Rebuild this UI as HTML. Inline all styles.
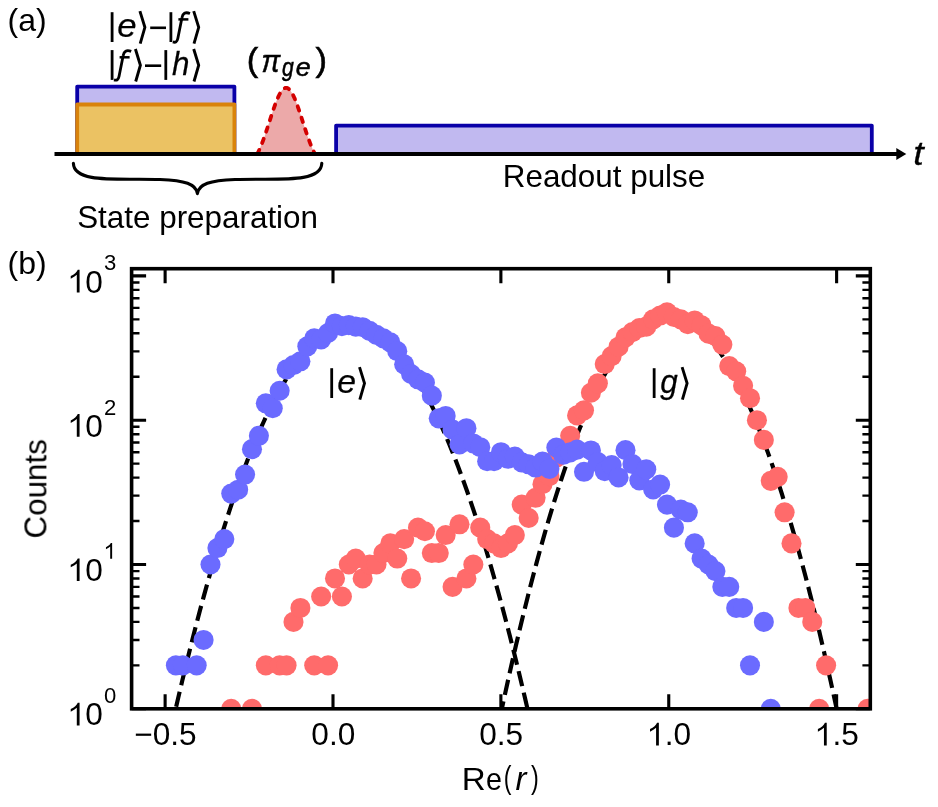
<!DOCTYPE html>
<html><head><meta charset="utf-8"><title>fig</title>
<style>
html,body{margin:0;padding:0;background:#fff}
body{width:938px;height:807px;overflow:hidden}
svg{display:block}
text{filter:url(#noaa)}
text{font-family:"Liberation Sans",sans-serif;fill:#000}
.i{font-style:italic}
</style></head><body>
<svg width="938" height="807" viewBox="0 0 938 807">
<defs><filter id="noaa" x="-20%" y="-40%" width="140%" height="180%" color-interpolation-filters="sRGB"><feOffset dx="0" dy="0"/></filter></defs>
<rect width="938" height="807" fill="#fff"/>
<g id="panelA">
<path d="M77.20 154.0 V86.60 H234.40 V154.0" fill="#c1b9f0" stroke="#0a00a8" stroke-width="3.8" stroke-linejoin="round"/>
<path d="M77.20 154.0 V104.50 H234.40 V154.0" fill="#ebc263" stroke="#d9830b" stroke-width="3.8" stroke-linejoin="round"/>
<path d="M336.10 154.0 V125.60 H871.80 V154.0" fill="#c1b9f0" stroke="#0a00a8" stroke-width="3.8" stroke-linejoin="round"/>
<path d="M257.3 154.00 L257.7 153.21 L258.1 152.40 L258.5 151.56 L258.9 150.70 L259.3 149.82 L259.7 148.92 L260.1 148.00 L260.5 147.05 L260.9 146.09 L261.3 145.10 L261.7 144.10 L262.1 143.07 L262.5 142.02 L262.9 140.96 L263.3 139.88 L263.7 138.78 L264.1 137.66 L264.5 136.53 L264.9 135.39 L265.3 134.22 L265.7 133.05 L266.1 131.86 L266.5 130.67 L266.9 129.46 L267.3 128.24 L267.7 127.02 L268.1 125.79 L268.5 124.55 L268.9 123.31 L269.3 122.07 L269.7 120.82 L270.1 119.58 L270.5 118.34 L270.9 117.10 L271.3 115.87 L271.7 114.64 L272.1 113.42 L272.5 112.21 L272.9 111.01 L273.3 109.83 L273.7 108.66 L274.1 107.51 L274.5 106.37 L274.9 105.26 L275.3 104.16 L275.7 103.09 L276.1 102.04 L276.5 101.02 L276.9 100.03 L277.3 99.06 L277.7 98.13 L278.1 97.23 L278.5 96.36 L278.9 95.53 L279.3 94.74 L279.7 93.98 L280.1 93.26 L280.5 92.58 L280.9 91.95 L281.3 91.35 L281.7 90.80 L282.1 90.30 L282.5 89.84 L282.9 89.43 L283.3 89.06 L283.7 88.74 L284.1 88.47 L284.5 88.25 L284.9 88.07 L285.3 87.95 L285.7 87.87 L286.1 87.85 L286.5 87.87 L286.9 87.95 L287.3 88.07 L287.7 88.25 L288.1 88.47 L288.5 88.74 L288.9 89.06 L289.3 89.43 L289.7 89.84 L290.1 90.30 L290.5 90.80 L290.9 91.35 L291.3 91.95 L291.7 92.58 L292.1 93.26 L292.5 93.98 L292.9 94.74 L293.3 95.53 L293.7 96.36 L294.1 97.23 L294.5 98.13 L294.9 99.06 L295.3 100.03 L295.7 101.02 L296.1 102.04 L296.5 103.09 L296.9 104.16 L297.3 105.26 L297.7 106.37 L298.1 107.51 L298.5 108.66 L298.9 109.83 L299.3 111.01 L299.7 112.21 L300.1 113.42 L300.5 114.64 L300.9 115.87 L301.3 117.10 L301.7 118.34 L302.1 119.58 L302.5 120.82 L302.9 122.07 L303.3 123.31 L303.7 124.55 L304.1 125.79 L304.5 127.02 L304.9 128.24 L305.3 129.46 L305.7 130.67 L306.1 131.86 L306.5 133.05 L306.9 134.22 L307.3 135.39 L307.7 136.53 L308.1 137.66 L308.5 138.78 L308.9 139.88 L309.3 140.96 L309.7 142.02 L310.1 143.07 L310.5 144.10 L310.9 145.10 L311.3 146.09 L311.7 147.05 L312.1 148.00 L312.5 148.92 L312.9 149.82 L313.3 150.70 L313.7 151.56 L314.1 152.40 L314.5 153.21 L314.9 154.00 Z" fill="#eca9a9" stroke="none"/>
<path d="M257.3 154.00 L257.7 153.21 L258.1 152.40 L258.5 151.56 L258.9 150.70 L259.3 149.82 L259.7 148.92 L260.1 148.00 L260.5 147.05 L260.9 146.09 L261.3 145.10 L261.7 144.10 L262.1 143.07 L262.5 142.02 L262.9 140.96 L263.3 139.88 L263.7 138.78 L264.1 137.66 L264.5 136.53 L264.9 135.39 L265.3 134.22 L265.7 133.05 L266.1 131.86 L266.5 130.67 L266.9 129.46 L267.3 128.24 L267.7 127.02 L268.1 125.79 L268.5 124.55 L268.9 123.31 L269.3 122.07 L269.7 120.82 L270.1 119.58 L270.5 118.34 L270.9 117.10 L271.3 115.87 L271.7 114.64 L272.1 113.42 L272.5 112.21 L272.9 111.01 L273.3 109.83 L273.7 108.66 L274.1 107.51 L274.5 106.37 L274.9 105.26 L275.3 104.16 L275.7 103.09 L276.1 102.04 L276.5 101.02 L276.9 100.03 L277.3 99.06 L277.7 98.13 L278.1 97.23 L278.5 96.36 L278.9 95.53 L279.3 94.74 L279.7 93.98 L280.1 93.26 L280.5 92.58 L280.9 91.95 L281.3 91.35 L281.7 90.80 L282.1 90.30 L282.5 89.84 L282.9 89.43 L283.3 89.06 L283.7 88.74 L284.1 88.47 L284.5 88.25 L284.9 88.07 L285.3 87.95 L285.7 87.87 L286.1 87.85 L286.5 87.87 L286.9 87.95 L287.3 88.07 L287.7 88.25 L288.1 88.47 L288.5 88.74 L288.9 89.06 L289.3 89.43 L289.7 89.84 L290.1 90.30 L290.5 90.80 L290.9 91.35 L291.3 91.95 L291.7 92.58 L292.1 93.26 L292.5 93.98 L292.9 94.74 L293.3 95.53 L293.7 96.36 L294.1 97.23 L294.5 98.13 L294.9 99.06 L295.3 100.03 L295.7 101.02 L296.1 102.04 L296.5 103.09 L296.9 104.16 L297.3 105.26 L297.7 106.37 L298.1 107.51 L298.5 108.66 L298.9 109.83 L299.3 111.01 L299.7 112.21 L300.1 113.42 L300.5 114.64 L300.9 115.87 L301.3 117.10 L301.7 118.34 L302.1 119.58 L302.5 120.82 L302.9 122.07 L303.3 123.31 L303.7 124.55 L304.1 125.79 L304.5 127.02 L304.9 128.24 L305.3 129.46 L305.7 130.67 L306.1 131.86 L306.5 133.05 L306.9 134.22 L307.3 135.39 L307.7 136.53 L308.1 137.66 L308.5 138.78 L308.9 139.88 L309.3 140.96 L309.7 142.02 L310.1 143.07 L310.5 144.10 L310.9 145.10 L311.3 146.09 L311.7 147.05 L312.1 148.00 L312.5 148.92 L312.9 149.82 L313.3 150.70 L313.7 151.56 L314.1 152.40 L314.5 153.21 L314.9 154.00" fill="none" stroke="#d40000" stroke-width="3.8" stroke-linecap="round" stroke-dasharray="4.6 7.4"/>
<line x1="54.5" y1="154.0" x2="897" y2="154.0" stroke="#000" stroke-width="3.9"/>
<path d="M896.3 148.1 L906.3 154.0 L896.3 159.9 Z" fill="#000"/>
<path d="M73.4 163.4 C74 184 120 178 160 179.5 C185 180.5 196 184 197.4 193.6 C198.8 184 210 180.5 235 179.5 C275 178 321 184 321.8 163.4" fill="none" stroke="#000" stroke-width="3.1" stroke-linecap="round" stroke-linejoin="round"/>
<text x="7.6" y="31" font-size="32">(a)</text>
<text x="197.6" y="228.0" font-size="31.4" text-anchor="middle">State preparation</text>
<text x="604.0" y="187.4" font-size="31.4" text-anchor="middle">Readout pulse</text>
<text transform="translate(913.32 164.90) scale(1.1085 1)" font-size="34" class="i" stroke="#000" stroke-width="0.3">t</text>
<line x1="112.10" y1="12.20" x2="112.10" y2="42.00" stroke="#000" stroke-width="2.8"/>
<text transform="translate(117.31 37.00) scale(1.0388 1)" font-size="33.5" class="i" stroke="#000" stroke-width="0.25">e</text>
<path d="M139.90 11.10 L144.90 27.30 L140.20 43.60" fill="none" stroke="#000" stroke-width="2.9" stroke-linejoin="miter" stroke-miterlimit="10"/>
<line x1="150.20" y1="27.80" x2="166.00" y2="27.80" stroke="#000" stroke-width="2.6"/>
<line x1="170.90" y1="12.20" x2="170.90" y2="42.00" stroke="#000" stroke-width="2.8"/>
<path d="M190.00 13.50 C185.20 11.60 182.70 13.50 182.00 17.50 L177.80 38.50 C177.10 42.00 175.60 42.80 172.80 41.90" fill="none" stroke="#000" stroke-width="2.8" stroke-linecap="butt"/>
<path d="M178.40 19.40 H188.40" fill="none" stroke="#000" stroke-width="2.5"/>
<path d="M193.70 11.10 L198.70 27.30 L194.00 43.60" fill="none" stroke="#000" stroke-width="2.9" stroke-linejoin="miter" stroke-miterlimit="10"/>
<line x1="112.10" y1="50.10" x2="112.10" y2="79.90" stroke="#000" stroke-width="2.8"/>
<path d="M131.20 51.40 C126.40 49.50 123.90 51.40 123.20 55.40 L119.00 76.40 C118.30 79.90 116.80 80.70 114.00 79.80" fill="none" stroke="#000" stroke-width="2.8" stroke-linecap="butt"/>
<path d="M119.60 57.30 H129.60" fill="none" stroke="#000" stroke-width="2.5"/>
<path d="M135.40 49.00 L140.40 65.20 L135.70 81.50" fill="none" stroke="#000" stroke-width="2.9" stroke-linejoin="miter" stroke-miterlimit="10"/>
<line x1="145.00" y1="65.70" x2="161.20" y2="65.70" stroke="#000" stroke-width="2.6"/>
<line x1="165.80" y1="50.10" x2="165.80" y2="79.90" stroke="#000" stroke-width="2.8"/>
<text transform="translate(172.01 74.90) scale(0.9373 1)" font-size="33.5" class="i" stroke="#000" stroke-width="0.25">h</text>
<path d="M193.70 49.00 L198.70 65.20 L194.00 81.50" fill="none" stroke="#000" stroke-width="2.9" stroke-linejoin="miter" stroke-miterlimit="10"/>
<text transform="translate(246.68 70.80) scale(1.0388 1)" font-size="33.2" stroke="#000" stroke-width="0.55">(</text>
<text transform="translate(261.42 72.00) scale(0.8681 1)" font-size="32.3" class="i" stroke="#000" stroke-width="0.55">π</text>
<text transform="translate(281.90 76.00) scale(0.8329 1)" font-size="25.4" class="i" stroke="#000" stroke-width="0.55">g</text>
<text transform="translate(295.86 76.00) scale(1.0551 1)" font-size="25.4" class="i" stroke="#000" stroke-width="0.55">e</text>
<text transform="translate(315.40 70.80) scale(1.0388 1)" font-size="33.2" stroke="#000" stroke-width="0.55">)</text>
</g>
<g id="panelB">
<clipPath id="cp"><rect x="131.6" y="268.7" width="738.6999999999999" height="440.09999999999997"/></clipPath>
<g clip-path="url(#cp)">
<path d="M170.00 733.89 L173.03 720.42 L176.05 707.17 L179.08 694.15 L182.11 681.36 L185.13 668.79 L188.16 656.45 L191.18 644.33 L194.21 632.44 L197.24 620.78 L200.26 609.34 L203.29 598.13 L206.32 587.15 L209.34 576.39 L212.37 565.86 L215.39 555.56 L218.42 545.48 L221.45 535.63 L224.47 526.01 L227.50 516.61 L230.53 507.44 L233.55 498.49 L236.58 489.77 L239.61 481.28 L242.63 473.01 L245.66 464.98 L248.68 457.16 L251.71 449.58 L254.74 442.22 L257.76 435.08 L260.79 428.18 L263.82 421.50 L266.84 415.04 L269.87 408.81 L272.90 402.81 L275.92 397.04 L278.95 391.49 L281.97 386.17 L285.00 381.07 L288.03 376.20 L291.05 371.56 L294.08 367.15 L297.11 362.96 L300.13 358.99 L303.16 355.26 L306.19 351.75 L309.21 348.46 L312.24 345.41 L315.26 342.57 L318.29 339.97 L321.32 337.59 L324.34 335.44 L327.37 333.52 L330.40 331.82 L333.42 330.35 L336.45 329.10 L339.47 328.08 L342.50 327.29 L345.53 326.72 L348.55 326.38 L351.58 326.27" stroke="#000" stroke-width="4.17" stroke-dasharray="15.43 6.67" fill="none" stroke-dashoffset="16.3"/>
<path d="M351.58 326.27 L354.62 326.38 L357.66 326.73 L360.70 327.30 L363.74 328.10 L366.78 329.13 L369.82 330.38 L372.86 331.87 L375.90 333.58 L378.94 335.53 L381.98 337.70 L385.02 340.10 L388.06 342.73 L391.10 345.58 L394.14 348.67 L397.19 351.98 L400.23 355.53 L403.27 359.30 L406.31 363.30 L409.35 367.52 L412.39 371.98 L415.43 376.67 L418.47 381.58 L421.51 386.72 L424.55 392.09 L427.59 397.69 L430.63 403.52 L433.67 409.58 L436.71 415.86 L439.75 422.38 L442.79 429.12 L445.83 436.09 L448.87 443.29 L451.91 450.72 L454.95 458.38 L457.99 466.26 L461.03 474.38 L464.07 482.72 L467.11 491.29 L470.15 500.09 L473.19 509.12 L476.23 518.37 L479.27 527.86 L482.31 537.57 L485.35 547.51 L488.39 557.68 L491.44 568.08 L494.48 578.71 L497.52 589.57 L500.56 600.65 L503.60 611.97 L506.64 623.51 L509.68 635.28 L512.72 647.28 L515.76 659.51 L518.80 671.96 L521.84 684.65 L524.88 697.56 L527.92 710.70 L530.96 724.08 L534.00 737.67" stroke="#000" stroke-width="4.17" stroke-dasharray="15.43 6.67" fill="none" stroke-dashoffset="0"/>
<path d="M496.00 736.65 L498.89 722.75 L501.77 709.09 L504.66 695.66 L507.55 682.47 L510.44 669.51 L513.32 656.78 L516.21 644.28 L519.10 632.02 L521.99 619.99 L524.87 608.20 L527.76 596.64 L530.65 585.31 L533.54 574.22 L536.42 563.36 L539.31 552.73 L542.20 542.34 L545.08 532.18 L547.97 522.26 L550.86 512.56 L553.75 503.11 L556.63 493.88 L559.52 484.89 L562.41 476.13 L565.30 467.61 L568.18 459.32 L571.07 451.26 L573.96 443.43 L576.85 435.84 L579.73 428.49 L582.62 421.36 L585.51 414.48 L588.39 407.82 L591.28 401.40 L594.17 395.21 L597.06 389.25 L599.94 383.53 L602.83 378.04 L605.72 372.79 L608.61 367.77 L611.49 362.98 L614.38 358.42 L617.27 354.10 L620.16 350.02 L623.04 346.16 L625.93 342.54 L628.82 339.16 L631.70 336.00 L634.59 333.09 L637.48 330.40 L640.37 327.95 L643.25 325.73 L646.14 323.74 L649.03 321.99 L651.92 320.47 L654.80 319.19 L657.69 318.14 L660.58 317.32 L663.47 316.74 L666.35 316.39 L669.24 316.27" stroke="#000" stroke-width="4.17" stroke-dasharray="15.43 6.67" fill="none" stroke-dashoffset="1.5"/>
<path d="M669.24 316.27 L671.25 316.33 L673.26 316.50 L675.27 316.78 L677.28 317.18 L679.29 317.68 L681.30 318.31 L683.31 319.04 L685.32 319.89 L687.33 320.85 L689.34 321.93 L691.35 323.12 L693.36 324.42 L695.37 325.83 L697.38 327.36 L699.39 329.00 L701.40 330.76 L703.41 332.62 L705.42 334.61 L707.43 336.70 L709.44 338.91 L711.45 341.23 L713.46 343.66 L715.47 346.21 L717.48 348.87 L719.49 351.64 L721.50 354.52 L723.51 357.52 L725.52 360.64 L727.53 363.86 L729.54 367.20 L731.55 370.65 L733.56 374.22 L735.57 377.90 L737.58 381.69 L739.59 385.59 L741.60 389.61 L743.61 393.74 L745.62 397.99 L747.63 402.34 L749.64 406.81 L751.65 411.40 L753.66 416.09 L755.67 420.90 L757.68 425.83 L759.69 430.86 L761.70 436.01 L763.71 441.28 L765.72 446.65 L767.73 452.14 L769.74 457.74 L771.75 463.46 L773.76 469.29 L775.77 475.23 L777.78 481.29 L779.79 487.45 L781.80 493.74 L783.81 500.13 L785.82 506.64 L787.83 513.26 L789.84 519.99" stroke="#000" stroke-width="4.17" stroke-dasharray="15.43 6.67" fill="none" stroke-dashoffset="11.70"/>
<path d="M789.84 519.99 L790.71 522.94 L791.58 525.91 L792.45 528.90 L793.32 531.91 L794.19 534.94 L795.06 538.00 L795.93 541.07 L796.79 544.17 L797.66 547.28 L798.53 550.42 L799.40 553.58 L800.27 556.76 L801.14 559.96 L802.01 563.19 L802.88 566.43 L803.75 569.70 L804.62 572.98 L805.49 576.29 L806.36 579.62 L807.23 582.97 L808.10 586.34 L808.97 589.73 L809.83 593.14 L810.70 596.58 L811.57 600.03 L812.44 603.51 L813.31 607.01 L814.18 610.53 L815.05 614.07 L815.92 617.63 L816.79 621.21 L817.66 624.82 L818.53 628.44 L819.40 632.09 L820.27 635.76 L821.14 639.45 L822.01 643.15 L822.87 646.89 L823.74 650.64 L824.61 654.41 L825.48 658.21 L826.35 662.02 L827.22 665.86 L828.09 669.72 L828.96 673.60 L829.83 677.50 L830.70 681.42 L831.57 685.36 L832.44 689.32 L833.31 693.31 L834.18 697.31 L835.05 701.34 L835.91 705.39 L836.78 709.46 L837.65 713.55 L838.52 717.66 L839.39 721.80 L840.26 725.95 L841.13 730.13 L842.00 734.32" stroke="#000" stroke-width="4.17" stroke-dasharray="15.43 6.67" fill="none" stroke-dashoffset="19.04"/>
<g fill="#ff6b6b">
<circle cx="231.24" cy="708.80" r="10.05"/><circle cx="251.99" cy="708.80" r="10.05"/><circle cx="265.82" cy="665.36" r="10.05"/><circle cx="279.65" cy="665.36" r="10.05"/><circle cx="286.57" cy="665.36" r="10.05"/><circle cx="293.49" cy="621.92" r="10.05"/><circle cx="300.41" cy="607.94" r="10.05"/><circle cx="314.24" cy="665.36" r="10.05"/><circle cx="321.16" cy="596.51" r="10.05"/><circle cx="328.07" cy="665.36" r="10.05"/><circle cx="334.99" cy="578.48" r="10.05"/><circle cx="341.91" cy="596.51" r="10.05"/><circle cx="348.82" cy="564.50" r="10.05"/><circle cx="355.74" cy="558.53" r="10.05"/><circle cx="362.66" cy="578.48" r="10.05"/><circle cx="369.58" cy="564.50" r="10.05"/><circle cx="376.49" cy="564.50" r="10.05"/><circle cx="383.41" cy="553.07" r="10.05"/><circle cx="390.33" cy="543.41" r="10.05"/><circle cx="397.24" cy="558.53" r="10.05"/><circle cx="404.16" cy="539.09" r="10.05"/><circle cx="411.08" cy="578.48" r="10.05"/><circle cx="418.00" cy="527.66" r="10.05"/><circle cx="424.91" cy="531.25" r="10.05"/><circle cx="431.83" cy="553.07" r="10.05"/><circle cx="438.75" cy="553.07" r="10.05"/><circle cx="445.66" cy="535.05" r="10.05"/><circle cx="452.58" cy="586.85" r="10.05"/><circle cx="459.50" cy="524.28" r="10.05"/><circle cx="466.41" cy="578.48" r="10.05"/><circle cx="473.33" cy="564.50" r="10.05"/><circle cx="480.25" cy="527.66" r="10.05"/><circle cx="487.16" cy="539.09" r="10.05"/><circle cx="494.08" cy="543.41" r="10.05"/><circle cx="501.00" cy="548.06" r="10.05"/><circle cx="507.92" cy="543.41" r="10.05"/><circle cx="514.83" cy="535.05" r="10.05"/><circle cx="521.75" cy="504.62" r="10.05"/><circle cx="528.67" cy="518.00" r="10.05"/><circle cx="535.58" cy="497.78" r="10.05"/><circle cx="542.50" cy="484.23" r="10.05"/><circle cx="549.42" cy="476.08" r="10.05"/><circle cx="556.34" cy="457.67" r="10.05"/><circle cx="563.25" cy="452.21" r="10.05"/><circle cx="570.17" cy="435.77" r="10.05"/><circle cx="577.09" cy="415.38" r="10.05"/><circle cx="584.00" cy="410.36" r="10.05"/><circle cx="590.92" cy="392.74" r="10.05"/><circle cx="597.84" cy="383.36" r="10.05"/><circle cx="604.75" cy="364.04" r="10.05"/><circle cx="611.67" cy="356.12" r="10.05"/><circle cx="618.59" cy="346.72" r="10.05"/><circle cx="625.50" cy="337.37" r="10.05"/><circle cx="632.42" cy="332.08" r="10.05"/><circle cx="639.34" cy="328.07" r="10.05"/><circle cx="646.26" cy="326.64" r="10.05"/><circle cx="653.17" cy="319.34" r="10.05"/><circle cx="660.09" cy="315.57" r="10.05"/><circle cx="667.01" cy="312.35" r="10.05"/><circle cx="673.92" cy="317.00" r="10.05"/><circle cx="680.84" cy="319.34" r="10.05"/><circle cx="687.76" cy="324.16" r="10.05"/><circle cx="694.67" cy="320.48" r="10.05"/><circle cx="701.59" cy="325.39" r="10.05"/><circle cx="708.51" cy="333.64" r="10.05"/><circle cx="715.43" cy="336.04" r="10.05"/><circle cx="722.34" cy="344.62" r="10.05"/><circle cx="729.26" cy="366.12" r="10.05"/><circle cx="736.18" cy="371.36" r="10.05"/><circle cx="743.09" cy="385.85" r="10.05"/><circle cx="750.01" cy="398.22" r="10.05"/><circle cx="756.93" cy="420.20" r="10.05"/><circle cx="763.84" cy="439.92" r="10.05"/><circle cx="770.76" cy="480.84" r="10.05"/><circle cx="777.68" cy="476.84" r="10.05"/><circle cx="784.60" cy="512.30" r="10.05"/><circle cx="791.51" cy="543.41" r="10.05"/><circle cx="798.43" cy="607.94" r="10.05"/><circle cx="805.35" cy="607.94" r="10.05"/><circle cx="812.26" cy="621.92" r="10.05"/><circle cx="819.18" cy="708.80" r="10.05"/><circle cx="826.10" cy="665.36" r="10.05"/><circle cx="867.60" cy="708.80" r="10.05"/>
</g>
<g fill="#6b6bff">
<circle cx="175.90" cy="665.36" r="10.05"/><circle cx="182.82" cy="665.36" r="10.05"/><circle cx="196.65" cy="665.36" r="10.05"/><circle cx="203.57" cy="639.95" r="10.05"/><circle cx="210.49" cy="564.50" r="10.05"/><circle cx="217.40" cy="548.06" r="10.05"/><circle cx="224.32" cy="539.09" r="10.05"/><circle cx="231.24" cy="493.60" r="10.05"/><circle cx="238.15" cy="489.68" r="10.05"/><circle cx="245.07" cy="474.57" r="10.05"/><circle cx="251.99" cy="449.16" r="10.05"/><circle cx="258.90" cy="435.77" r="10.05"/><circle cx="265.82" cy="403.28" r="10.05"/><circle cx="272.74" cy="408.25" r="10.05"/><circle cx="279.65" cy="390.75" r="10.05"/><circle cx="286.57" cy="369.38" r="10.05"/><circle cx="293.49" cy="365.07" r="10.05"/><circle cx="300.41" cy="361.29" r="10.05"/><circle cx="307.32" cy="346.34" r="10.05"/><circle cx="314.24" cy="338.38" r="10.05"/><circle cx="321.16" cy="339.41" r="10.05"/><circle cx="328.07" cy="333.01" r="10.05"/><circle cx="334.99" cy="323.48" r="10.05"/><circle cx="341.91" cy="326.08" r="10.05"/><circle cx="348.82" cy="325.11" r="10.05"/><circle cx="355.74" cy="326.64" r="10.05"/><circle cx="362.66" cy="327.21" r="10.05"/><circle cx="369.58" cy="330.86" r="10.05"/><circle cx="376.49" cy="334.91" r="10.05"/><circle cx="383.41" cy="338.38" r="10.05"/><circle cx="390.33" cy="342.41" r="10.05"/><circle cx="397.24" cy="351.14" r="10.05"/><circle cx="404.16" cy="364.30" r="10.05"/><circle cx="411.08" cy="374.00" r="10.05"/><circle cx="418.00" cy="379.32" r="10.05"/><circle cx="424.91" cy="382.67" r="10.05"/><circle cx="431.83" cy="395.63" r="10.05"/><circle cx="438.75" cy="418.35" r="10.05"/><circle cx="445.66" cy="415.96" r="10.05"/><circle cx="452.58" cy="429.65" r="10.05"/><circle cx="459.50" cy="444.37" r="10.05"/><circle cx="466.41" cy="428.21" r="10.05"/><circle cx="473.33" cy="443.45" r="10.05"/><circle cx="480.25" cy="447.20" r="10.05"/><circle cx="487.16" cy="461.18" r="10.05"/><circle cx="494.08" cy="461.18" r="10.05"/><circle cx="501.00" cy="452.21" r="10.05"/><circle cx="507.92" cy="458.82" r="10.05"/><circle cx="514.83" cy="456.54" r="10.05"/><circle cx="521.75" cy="462.40" r="10.05"/><circle cx="528.67" cy="464.27" r="10.05"/><circle cx="535.58" cy="467.52" r="10.05"/><circle cx="542.50" cy="461.66" r="10.05"/><circle cx="549.42" cy="468.86" r="10.05"/><circle cx="556.34" cy="447.49" r="10.05"/><circle cx="563.25" cy="454.77" r="10.05"/><circle cx="570.17" cy="452.42" r="10.05"/><circle cx="577.09" cy="449.65" r="10.05"/><circle cx="584.00" cy="471.79" r="10.05"/><circle cx="590.92" cy="450.46" r="10.05"/><circle cx="597.84" cy="462.15" r="10.05"/><circle cx="604.75" cy="471.22" r="10.05"/><circle cx="611.67" cy="465.03" r="10.05"/><circle cx="618.59" cy="477.47" r="10.05"/><circle cx="625.50" cy="450.16" r="10.05"/><circle cx="632.42" cy="464.02" r="10.05"/><circle cx="639.34" cy="480.34" r="10.05"/><circle cx="646.26" cy="469.27" r="10.05"/><circle cx="653.17" cy="489.49" r="10.05"/><circle cx="660.09" cy="484.57" r="10.05"/><circle cx="667.01" cy="504.62" r="10.05"/><circle cx="673.92" cy="527.66" r="10.05"/><circle cx="680.84" cy="509.64" r="10.05"/><circle cx="687.76" cy="512.30" r="10.05"/><circle cx="694.67" cy="543.41" r="10.05"/><circle cx="701.59" cy="558.53" r="10.05"/><circle cx="708.51" cy="564.50" r="10.05"/><circle cx="715.43" cy="571.10" r="10.05"/><circle cx="722.34" cy="586.85" r="10.05"/><circle cx="729.26" cy="586.85" r="10.05"/><circle cx="736.18" cy="607.94" r="10.05"/><circle cx="743.09" cy="607.94" r="10.05"/><circle cx="750.01" cy="665.36" r="10.05"/><circle cx="763.84" cy="621.92" r="10.05"/><circle cx="770.76" cy="708.80" r="10.05"/>
</g>
</g>
<path d="M165.12 708.8 v-14.5 M165.12 268.7 v14.5 M333.00 708.8 v-14.5 M333.00 268.7 v14.5 M500.88 708.8 v-14.5 M500.88 268.7 v14.5 M668.75 708.8 v-14.5 M668.75 268.7 v14.5 M836.62 708.8 v-14.5 M836.62 268.7 v14.5" stroke="#000" stroke-width="3.1" fill="none"/>
<path d="M131.6 708.80 h14.5 M870.3 708.80 h-14.5 M131.6 564.50 h14.5 M870.3 564.50 h-14.5 M131.6 420.20 h14.5 M870.3 420.20 h-14.5 M131.6 275.90 h14.5 M870.3 275.90 h-14.5" stroke="#000" stroke-width="3.1" fill="none"/>
<path d="M131.6 665.36 h7.9 M870.3 665.36 h-7.9 M131.6 639.95 h7.9 M870.3 639.95 h-7.9 M131.6 621.92 h7.9 M870.3 621.92 h-7.9 M131.6 607.94 h7.9 M870.3 607.94 h-7.9 M131.6 596.51 h7.9 M870.3 596.51 h-7.9 M131.6 586.85 h7.9 M870.3 586.85 h-7.9 M131.6 578.48 h7.9 M870.3 578.48 h-7.9 M131.6 571.10 h7.9 M870.3 571.10 h-7.9 M131.6 521.06 h7.9 M870.3 521.06 h-7.9 M131.6 495.65 h7.9 M870.3 495.65 h-7.9 M131.6 477.62 h7.9 M870.3 477.62 h-7.9 M131.6 463.64 h7.9 M870.3 463.64 h-7.9 M131.6 452.21 h7.9 M870.3 452.21 h-7.9 M131.6 442.55 h7.9 M870.3 442.55 h-7.9 M131.6 434.18 h7.9 M870.3 434.18 h-7.9 M131.6 426.80 h7.9 M870.3 426.80 h-7.9 M131.6 376.76 h7.9 M870.3 376.76 h-7.9 M131.6 351.35 h7.9 M870.3 351.35 h-7.9 M131.6 333.32 h7.9 M870.3 333.32 h-7.9 M131.6 319.34 h7.9 M870.3 319.34 h-7.9 M131.6 307.91 h7.9 M870.3 307.91 h-7.9 M131.6 298.25 h7.9 M870.3 298.25 h-7.9 M131.6 289.88 h7.9 M870.3 289.88 h-7.9 M131.6 282.50 h7.9 M870.3 282.50 h-7.9" stroke="#000" stroke-width="2.4" fill="none"/>
<rect x="131.6" y="268.7" width="738.70" height="440.10" fill="none" stroke="#000" stroke-width="3.6"/>
<text x="134.24" y="745.40" font-size="31.6">−0.5</text>
<text x="311.34" y="745.40" font-size="31.6">0.0</text>
<text x="479.21" y="745.40" font-size="31.6">0.5</text>
<path transform="translate(647.09 745.40) scale(0.01543 -0.01543)" d="M763 0 H583 V1147 Q480 1050 190 890 V1064 Q545 1228 647 1472 H763 Z" fill="#000"/><text x="664.66" y="745.40" font-size="31.6">.0</text>
<path transform="translate(814.96 745.40) scale(0.01543 -0.01543)" d="M763 0 H583 V1147 Q480 1050 190 890 V1064 Q545 1228 647 1472 H763 Z" fill="#000"/><text x="832.53" y="745.40" font-size="31.6">.5</text>
<path transform="translate(67.80 725.40) scale(0.01543 -0.01543)" d="M763 0 H583 V1147 Q480 1050 190 890 V1064 Q545 1228 647 1472 H763 Z" fill="#000"/><text x="85.37" y="725.40" font-size="31.6">0</text>
<text x="103.90" y="703.10" font-size="22.1">0</text>
<path transform="translate(67.80 581.10) scale(0.01543 -0.01543)" d="M763 0 H583 V1147 Q480 1050 190 890 V1064 Q545 1228 647 1472 H763 Z" fill="#000"/><text x="85.37" y="581.10" font-size="31.6">0</text>
<path transform="translate(103.90 558.80) scale(0.01079 -0.01079)" d="M763 0 H583 V1147 Q480 1050 190 890 V1064 Q545 1228 647 1472 H763 Z" fill="#000"/>
<path transform="translate(67.80 436.80) scale(0.01543 -0.01543)" d="M763 0 H583 V1147 Q480 1050 190 890 V1064 Q545 1228 647 1472 H763 Z" fill="#000"/><text x="85.37" y="436.80" font-size="31.6">0</text>
<text x="103.90" y="414.50" font-size="22.1">2</text>
<path transform="translate(67.80 292.50) scale(0.01543 -0.01543)" d="M763 0 H583 V1147 Q480 1050 190 890 V1064 Q545 1228 647 1472 H763 Z" fill="#000"/><text x="85.37" y="292.50" font-size="31.6">0</text>
<text x="103.90" y="270.20" font-size="22.1">3</text>
<text transform="translate(461.71 789.50) scale(1.0557 1)" font-size="31.4">R</text>
<text transform="translate(486.10 789.50) scale(0.9139 1)" font-size="31.4">e</text>
<text transform="translate(503.82 788.40) scale(0.7553 1)" font-size="30.6">(</text>
<text transform="translate(515.49 789.50) scale(0.9950 1)" font-size="33.0" class="i">r</text>
<text transform="translate(531.10 788.40) scale(0.7669 1)" font-size="30.6">)</text>
<text transform="translate(46.4 488.8) rotate(-90)" font-size="31.4" text-anchor="middle">Counts</text>
<text x="7.6" y="273.6" font-size="32">(b)</text>
<line x1="331.70" y1="368.20" x2="331.70" y2="398.00" stroke="#000" stroke-width="2.8"/>
<text transform="translate(337.24 393.00) scale(1.0090 1)" font-size="33.5" class="i" stroke="#000" stroke-width="0.25">e</text>
<path d="M359.50 367.10 L364.50 383.30 L359.80 399.60" fill="none" stroke="#000" stroke-width="2.9" stroke-linejoin="miter" stroke-miterlimit="10"/>
<line x1="654.15" y1="368.20" x2="654.15" y2="398.00" stroke="#000" stroke-width="2.8"/>
<text transform="translate(660.30 392.50) scale(0.9449 1)" font-size="33.3" class="i" stroke="#000" stroke-width="0.25">g</text>
<path d="M682.10 367.10 L687.10 383.30 L682.40 399.60" fill="none" stroke="#000" stroke-width="2.9" stroke-linejoin="miter" stroke-miterlimit="10"/>
</g>
</svg>
</body></html>
